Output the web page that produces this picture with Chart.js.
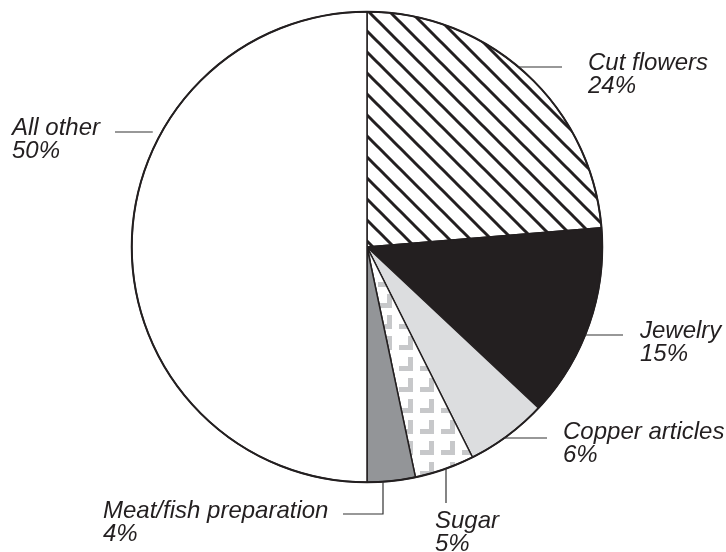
<!DOCTYPE html>
<html>
<head>
<meta charset="utf-8">
<script src="https://cdn.jsdelivr.net/npm/chart.js@4.4.0/dist/chart.umd.min.js"></script>
<style>
  html, body { margin: 0; padding: 0; background: #fff; }
  #wrap { width: 726px; height: 552px; position: relative; }
</style>
</head>
<body>
<div id="wrap"><canvas id="pie"></canvas></div>
<script>
  // ---- Data ----
  const categories = ['Cut flowers', 'Jewelry', 'Copper articles', 'Sugar', 'Meat/fish preparation', 'All other'];
  const shareLabels = ['24%', '15%', '6%', '5%', '4%', '50%'];
  const sliceValues = [23.7, 13.3, 5.6, 4.1, 3.3, 50];

  const INK = '#231f20';
  const canvas = document.getElementById('pie');
  const ctx = canvas.getContext('2d');

  // ---- Fill patterns ----
  function hatchPattern() {
    const s = 21;
    const c = document.createElement('canvas');
    c.width = c.height = s;
    const g = c.getContext('2d');
    g.fillStyle = '#fff';
    g.fillRect(0, 0, s, s);
    g.strokeStyle = INK;
    g.lineWidth = 3;
    for (const o of [-s, 0, s]) {
      g.beginPath();
      g.moveTo(o - 2, -2);
      g.lineTo(o + s + 2, s + 2);
      g.stroke();
    }
    return ctx.createPattern(c, 'repeat');
  }

  function cornerPattern() {
    const s = 21;
    const c = document.createElement('canvas');
    c.width = c.height = s;
    const g = c.getContext('2d');
    g.fillStyle = '#fff';
    g.fillRect(0, 0, s, s);
    g.fillStyle = '#c7c8ca';
    g.fillRect(9, 0, 5, 14);
    g.fillRect(0, 9, 14, 5);
    return ctx.createPattern(c, 'repeat');
  }

  const fills = [hatchPattern(), INK, '#dcdddf', cornerPattern(), '#939598', '#ffffff'];

  // ---- Labels + leader lines (positions relative to pie centre) ----
  // kind 'h': horizontal leader at dy, from circle (+gap) to x end
  // kind 'v': vertical leader at dx, from circle down to y end (optional elbow to x2)
  const labelLayout = [
    { x: 588, y: 70, lead: { kind: 'h', dy: -180, side: 1, to: 562, gap: 0 } },
    { x: 640, y: 338, lead: { kind: 'h', dy: 88, side: 1, to: 623, gap: 0 } },
    { x: 563, y: 439, lead: { kind: 'h', dy: 191, side: 1, to: 547, gap: 0 } },
    { x: 435, y: 528, lead: { kind: 'v', dx: 79, to: 503 } },
    { x: 103, y: 518, lead: { kind: 'v', dx: 16, to: 514, elbow: 343 } },
    { x: 12, y: 135, lead: { kind: 'h', dy: -115, side: -1, to: 115, gap: 9 } }
  ];

  const labelPlugin = {
    id: 'labels',
    afterDatasetsDraw(chart) {
      const c = chart.ctx;
      const arc = chart.getDatasetMeta(0).data[0];
      const cx = arc.x, cy = arc.y, r = arc.outerRadius;

      // outer rim a bit heavier than the slice edges
      c.save();
      c.strokeStyle = INK;
      c.lineWidth = 2;
      c.beginPath();
      c.arc(cx, cy, r, 0, Math.PI * 2);
      c.stroke();

      c.lineWidth = 1.2;
      c.strokeStyle = '#333';
      labelLayout.forEach(l => {
        const ld = l.lead;
        c.beginPath();
        if (ld.kind === 'h') {
          const y = cy + ld.dy;
          const x0 = cx + ld.side * (Math.sqrt(r * r - ld.dy * ld.dy) + ld.gap);
          c.moveTo(x0, y);
          c.lineTo(ld.to, y);
        } else {
          const x = cx + ld.dx;
          const y0 = cy + Math.sqrt(r * r - ld.dx * ld.dx);
          c.moveTo(x, y0);
          c.lineTo(x, ld.to);
          if (ld.elbow) c.lineTo(ld.elbow, ld.to);
        }
        c.stroke();
      });

      c.fillStyle = INK;
      c.font = 'italic 24px "Liberation Sans", Arial, sans-serif';
      c.textBaseline = 'alphabetic';
      c.textAlign = 'left';
      labelLayout.forEach((l, i) => {
        c.fillText(categories[i], l.x, l.y);
        c.fillText(shareLabels[i], l.x, l.y + 23);
      });
      c.restore();
    }
  };

  new Chart(canvas, {
    type: 'pie',
    data: {
      labels: categories,
      datasets: [{
        data: sliceValues,
        backgroundColor: fills,
        borderColor: INK,
        borderWidth: 1.5
      }]
    },
    options: {
      responsive: true,
      maintainAspectRatio: false,
      animation: false,
      layout: { padding: { left: 131, right: 123, top: 11, bottom: 69 } },
      plugins: { legend: { display: false }, tooltip: { enabled: false } }
    },
    plugins: [labelPlugin]
  });
</script>
</body>
</html>
